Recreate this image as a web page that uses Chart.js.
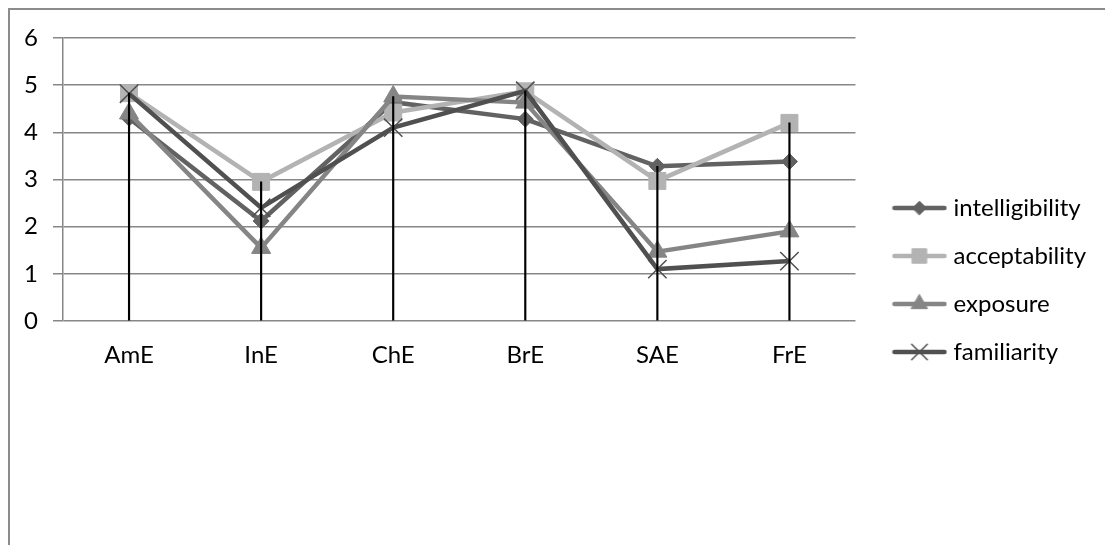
<!DOCTYPE html>
<html>
<head>
<meta charset="utf-8">
<script src="https://cdn.jsdelivr.net/npm/chart.js@4.4.0/dist/chart.umd.min.js"></script>
<style>
  html, body { margin: 0; padding: 0; background: #fff; font-family: Lato, sans-serif; }
  #wrap { position: relative; width: 1105px; height: 545px; overflow: hidden; }
  #frame { position: absolute; left: 8px; top: 8px; right: -4px; bottom: -4px;
           border-top: 2px solid #8c8c8c; border-left: 2px solid #8c8c8c; }
  canvas { position: absolute; left: 0; top: 0; }
</style>
</head>
<body>
<div id="wrap">
  <div id="frame"></div>
  <canvas id="chart" width="1105" height="545"></canvas>
</div>
<script>
const categories = ['AmE', 'InE', 'ChE', 'BrE', 'SAE', 'FrE'];
const intelligibility = [4.30, 2.12, 4.64, 4.28, 3.28, 3.38];
const acceptability   = [4.83, 2.95, 4.42, 4.87, 2.97, 4.20];
const exposure        = [4.40, 1.55, 4.76, 4.63, 1.47, 1.90];
const familiarity     = [4.82, 2.40, 4.10, 4.88, 1.10, 1.27];
const seriesNames = ['intelligibility', 'acceptability', 'exposure', 'familiarity'];
const yTicks = [0, 1, 2, 3, 4, 5, 6];

const allSeries = [intelligibility, acceptability, exposure, familiarity];
// drop lines go from the axis up to the highest series at each category
const dropTops = categories.map((c, i) => Math.max(...allSeries.map(s => s[i])));

const styles = [
  {color: '#626262', point: 'rectRot',  radius: 8,  pbw: 1},
  {color: '#b3b3b3', point: 'rect',     radius: 12, pbw: 1},
  {color: '#858585', point: 'triangle', radius: 11, pbw: 1},
  {color: '#505050', point: 'crossRot', radius: 13, pbw: 1.5}
];

// legend icon: short line with the marker in the middle
function legendIcon(st) {
  const c = document.createElement('canvas');
  c.width = 56; c.height = 26;
  const ctx = c.getContext('2d');
  ctx.strokeStyle = st.color;
  ctx.lineWidth = 4.5;
  ctx.lineCap = 'round';
  ctx.beginPath(); ctx.moveTo(3, 13); ctx.lineTo(53, 13); ctx.stroke();
  ctx.fillStyle = st.color;
  ctx.lineWidth = st.pbw;
  Chart.helpers.drawPoint(ctx, {pointStyle: st.point, radius: st.radius * 0.85, borderWidth: st.pbw, rotation: 0}, 28, 13);
  return c;
}
const icons = styles.map(legendIcon);

const font = {family: 'Lato, "Open Sans", sans-serif', size: 24};

const datasets = allSeries.map((data, i) => ({
  type: 'line',
  label: seriesNames[i],
  data: data,
  borderColor: styles[i].color,
  backgroundColor: styles[i].color,
  borderWidth: 4.5,
  tension: 0,
  fill: false,
  pointStyle: styles[i].point,
  pointRadius: styles[i].radius,
  pointBackgroundColor: styles[i].color,
  pointBorderColor: styles[i].color,
  pointBorderWidth: styles[i].pbw,
  order: 4 - i
}));

datasets.push({
  type: 'bar',
  label: 'drop',
  data: dropTops,
  backgroundColor: '#000',
  barThickness: 1.5,
  order: 0
});

const chart = new Chart(document.getElementById('chart').getContext('2d'), {
  data: {labels: categories, datasets: datasets},
  options: {
    responsive: false,
    animation: false,
    layout: {padding: {top: 38, bottom: 23, left: 0, right: 9}},
    plugins: {
      tooltip: {enabled: false},
      legend: {
        position: 'right',
        labels: {
          usePointStyle: true,
          pointStyleWidth: 44,
          padding: 24,
          color: '#000',
          font: font,
          filter: item => item.datasetIndex < 4,
          sort: (a, b) => a.datasetIndex - b.datasetIndex,
          generateLabels(chart) {
            const items = Chart.defaults.plugins.legend.labels.generateLabels(chart);
            items.forEach(it => { if (it.datasetIndex < 4) it.pointStyle = icons[it.datasetIndex]; });
            return items;
          }
        }
      }
    },
    scales: {
      x: {
        grid: {display: false, drawTicks: false},
        border: {display: false},
        ticks: {color: '#000', font: font, padding: 20},
        afterFit(scale) { scale.height = 201; }
      },
      y: {
        min: 0,
        max: 6,
        afterBuildTicks(scale) { scale.ticks = yTicks.map(v => ({value: v})); },
        grid: {color: '#878787', lineWidth: 1.5, tickLength: 10},
        border: {color: '#878787', width: 1.5},
        ticks: {color: '#000', font: font, padding: 15},
        afterFit(scale) { scale.width = 63; }
      },
      // hidden axis used only as empty gap between the plot and the legend
      gap: {
        type: 'linear',
        position: 'right',
        display: false,
        min: 0,
        max: 1,
        afterFit(scale) { scale.width = 18; }
      }
    }
  }
});

document.fonts.load('24px Lato').then(() => chart.update());
</script>
</body>
</html>
